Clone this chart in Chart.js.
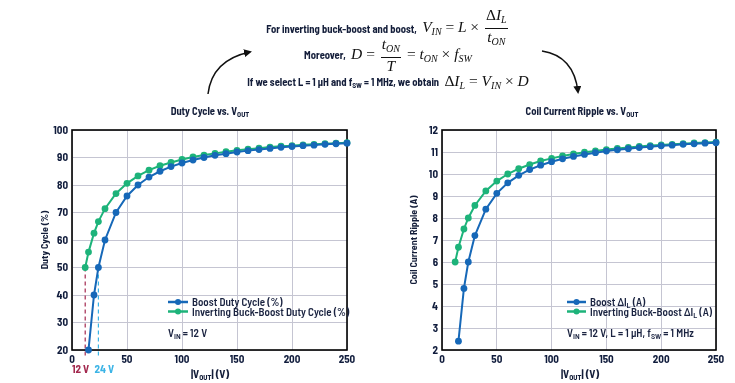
<!DOCTYPE html>
<html>
<head>
<meta charset="utf-8">
<script src="https://cdn.jsdelivr.net/npm/chart.js@4.4.1/dist/chart.umd.min.js"></script>
<style>
  html,body{margin:0;padding:0;background:#fff;}
  #root{position:relative;width:735px;height:383px;overflow:hidden;font-family:"Barlow Semi Condensed","Roboto Condensed","Liberation Sans",sans-serif;color:#141e3a;}
  .abs{position:absolute;white-space:nowrap;}
  .sans{font-family:"Barlow Semi Condensed","Roboto Condensed","Liberation Sans",sans-serif;font-weight:bold;font-size:10.5px;color:#141e3a;}
  .math{font-family:"Liberation Serif","DejaVu Serif",serif;font-style:italic;font-size:15.5px;color:#111;}
  .math .up{font-style:normal;}
  .math sub{font-size:10px;vertical-align:-3px;}
  .frac{display:inline-flex;flex-direction:column;vertical-align:middle;text-align:center;line-height:16px;margin:0 2px;}
  .frac>span:first-child{border-bottom:1px solid #111;padding:0 1px;}
  .sans sub{font-size:7.5px;vertical-align:-2px;}
  .ylab{transform:translate(-50%,-50%) rotate(-90deg);}
  .leg{font-family:"Barlow Semi Condensed","Roboto Condensed",sans-serif;font-weight:600;font-size:11px;color:#1a2340;}
  .leg sub{font-size:8px;vertical-align:-2px;}
  .eq{left:41px;width:694px;text-align:center;}
  canvas{position:absolute;top:0;}
</style>
</head>
<body>
<div id="root">
  <canvas id="c1" width="370" height="383" style="left:0"></canvas>
  <canvas id="c2" width="365" height="383" style="left:370px"></canvas>

  <!-- equations -->
  <div class="abs eq" style="top:7px;">
    <span class="sans" style="vertical-align:middle">For inverting buck-boost and boost,&nbsp;</span>
    <span class="math">V<sub>IN</sub> <span class="up">=</span> L <span class="up">×</span> <span class="frac"><span><span class="up">Δ</span>I<sub>L</sub></span><span>t<sub>ON</sub></span></span></span>
  </div>
  <div class="abs eq" style="top:36px;">
    <span class="sans" style="vertical-align:middle">Moreover,&nbsp;</span>
    <span class="math">D <span class="up">=</span> <span class="frac"><span>t<sub>ON</sub></span><span>T</span></span> <span class="up">=</span> t<sub>ON</sub> <span class="up">×</span> f<sub>SW</sub></span>
  </div>
  <div class="abs eq" style="top:70px;">
    <span class="sans">If we select L = 1 μH and f<sub>SW</sub> = 1 MHz, we obtain&nbsp;</span>
    <span class="math"><span class="up">Δ</span>I<sub>L</sub> <span class="up">=</span> V<sub>IN</sub> <span class="up">×</span> D</span>
  </div>

  <svg class="abs" style="left:0;top:0" width="735" height="383">
    <defs>
      <marker id="ah" markerWidth="8" markerHeight="8" refX="6" refY="4" orient="auto" markerUnits="userSpaceOnUse">
        <path d="M0,0 L8,4 L0,8 z" fill="#111"/>
      </marker>
    </defs>
    <path d="M208,94 Q212,60 250,52" fill="none" stroke="#111" stroke-width="1.5" marker-end="url(#ah)"/>
    <path d="M542,51 Q574,56 578,92" fill="none" stroke="#111" stroke-width="1.5" marker-end="url(#ah)"/>
  </svg>

  <!-- chart titles -->
  <div class="abs sans" style="left:210px;top:104px;transform:translateX(-50%);font-size:10.5px;">Duty Cycle vs. V<sub>OUT</sub></div>
  <div class="abs sans" style="left:582px;top:104px;transform:translateX(-50%);font-size:10.5px;">Coil Current Ripple vs. V<sub>OUT</sub></div>

  <!-- axis titles -->
  <div class="abs sans ylab" style="left:44px;top:240px;font-size:10px;">Duty Cycle (%)</div>
  <div class="abs sans ylab" style="left:413px;top:240px;font-size:10px;">Coil Current Ripple (A)</div>
  <div class="abs sans" style="left:210px;top:367px;transform:translateX(-50%);font-size:11px;">|V<sub>OUT</sub>| (V)</div>
  <div class="abs sans" style="left:580px;top:367px;transform:translateX(-50%);font-size:11px;">|V<sub>OUT</sub>| (V)</div>

  <!-- legends -->
  <svg class="abs" style="left:0;top:0" width="735" height="383">
    <line x1="168" y1="302" x2="188" y2="302" stroke="#1668b8" stroke-width="2.5"/><circle cx="178" cy="302" r="3" fill="#1668b8"/>
    <line x1="168" y1="311.5" x2="188" y2="311.5" stroke="#1db37a" stroke-width="2.5"/><circle cx="178" cy="311.5" r="3" fill="#1db37a"/>
    <line x1="567" y1="302" x2="586" y2="302" stroke="#1668b8" stroke-width="2.5"/><circle cx="576.5" cy="302" r="3" fill="#1668b8"/>
    <line x1="567" y1="311.5" x2="586" y2="311.5" stroke="#1db37a" stroke-width="2.5"/><circle cx="576.5" cy="311.5" r="3" fill="#1db37a"/>
  </svg>
  <div class="abs leg" style="left:192px;top:295px;">Boost Duty Cycle (%)</div>
  <div class="abs leg" style="left:192px;top:304.5px;">Inverting Buck-Boost Duty Cycle (%)</div>
  <div class="abs leg" style="left:168px;top:326px;">V<sub>IN</sub> = 12 V</div>
  <div class="abs leg" style="left:590px;top:295px;">Boost ΔI<sub>L</sub> (A)</div>
  <div class="abs leg" style="left:590px;top:304.5px;">Inverting Buck-Boost ΔI<sub>L</sub> (A)</div>
  <div class="abs leg" style="left:567px;top:326px;">V<sub>IN</sub> = 12 V, L = 1 μH, f<sub>SW</sub> = 1 MHz</div>
</div>

<script>
// ---- data ----
const vBoost = [15, 20, 24, 30, 40, 50, 60, 70, 80, 90, 100, 110, 120, 130, 140, 150, 160, 170, 180, 190, 200, 210, 220, 230, 240, 250];
const vInv   = [12, 15, 20, 24, 30, 40, 50, 60, 70, 80, 90, 100, 110, 120, 130, 140, 150, 160, 170, 180, 190, 200, 210, 220, 230, 240, 250];

const dutyBoost = [20, 40, 50, 60, 70, 76, 80, 82.9, 85, 86.7, 88, 89.1, 90, 90.8, 91.4, 92, 92.5, 92.9, 93.3, 93.7, 94, 94.3, 94.5, 94.8, 95, 95.2];
const dutyInv   = [50, 55.6, 62.5, 66.7, 71.4, 76.9, 80.6, 83.3, 85.4, 87, 88.2, 89.3, 90.2, 90.9, 91.5, 92.1, 92.6, 93, 93.4, 93.8, 94.1, 94.3, 94.6, 94.8, 95, 95.2, 95.4];

const rippleBoost = [2.4, 4.8, 6, 7.2, 8.4, 9.12, 9.6, 9.94, 10.2, 10.4, 10.56, 10.69, 10.8, 10.89, 10.97, 11.04, 11.1, 11.15, 11.2, 11.24, 11.28, 11.31, 11.35, 11.37, 11.4, 11.42];
const rippleInv   = [6, 6.67, 7.5, 8, 8.57, 9.23, 9.68, 10, 10.24, 10.43, 10.59, 10.71, 10.82, 10.91, 10.99, 11.05, 11.11, 11.16, 11.21, 11.25, 11.29, 11.32, 11.35, 11.38, 11.41, 11.43, 11.45];

const markerVolts = [12, 24];
const markerLabels = ['12 V', '24 V'];
const markerDuty = 50;

const BLUE = '#1668b8', GREEN = '#1db37a';
const FONT = '"Barlow Semi Condensed","Roboto Condensed","Liberation Sans",sans-serif';

function pts(xs, ys){ return xs.map((x,i)=>({x:x, y:ys[i]})); }

function ds(label, xs, ys, color){
  return {label, data: pts(xs, ys), borderColor: color, backgroundColor: color,
    borderWidth: 2, pointRadius: 3.4, pointHoverRadius: 3.4, pointBorderWidth: 0,
    tension: 0, clip: false};
}

const framePlugin = {
  id: 'frame',
  beforeDatasetsDraw(chart){
    const {ctx, chartArea:a} = chart;
    ctx.save();
    ctx.strokeStyle = '#000'; ctx.lineWidth = 1.6;
    ctx.strokeRect(a.left, a.top, a.right - a.left, a.bottom - a.top);
    ctx.restore();
  }
};

const markerPlugin = {
  id: 'vmarkers',
  beforeDatasetsDraw(chart){
    const {ctx, scales:{x, y}, chartArea:a} = chart;
    const cols = ['#a3294f', '#3cb4e6'];
    ctx.save();
    ctx.lineWidth = 1.2;
    ctx.setLineDash([4, 3]);
    markerVolts.forEach((v, i) => {
      const px = x.getPixelForValue(v);
      ctx.strokeStyle = cols[i];
      ctx.beginPath();
      ctx.moveTo(px, y.getPixelForValue(markerDuty));
      ctx.lineTo(px, a.bottom + 8);
      ctx.stroke();
    });
    ctx.setLineDash([]);
    ctx.font = 'bold 11px ' + FONT;
    ctx.textBaseline = 'middle';
    markerVolts.forEach((v, i) => {
      const px = x.getPixelForValue(v);
      ctx.fillStyle = cols[i];
      ctx.textAlign = i === 0 ? 'right' : 'left';
      ctx.fillText(markerLabels[i], i === 0 ? px + 4 : px - 4, a.bottom + 19);
    });
    ctx.restore();
  }
};

function makeChart(id, datasets, ymin, ymax, ystep, rightPad, extraPlugins){
  return new Chart(document.getElementById(id), {
    type: 'line',
    data: { datasets },
    options: {
      responsive: false, animation: false, devicePixelRatio: 1,
      layout: { padding: { top: 130, right: rightPad, left: 0, bottom: 0 } },
      plugins: { legend: { display: false }, tooltip: { enabled: false } },
      scales: {
        x: {
          type: 'linear', min: 0, max: 250,
          ticks: { stepSize: 50, padding: 3, color: '#101c3c', font: { family: FONT, weight: 'bold', size: 11 } },
          grid: { color: '#c5c5d2', lineWidth: 1, drawTicks: false },
          border: { display: false },
          afterFit(s){ s.height = 33; }
        },
        y: {
          min: ymin, max: ymax,
          ticks: { stepSize: ystep, padding: 4, color: '#101c3c', font: { family: FONT, weight: 'bold', size: 11 } },
          grid: { color: '#c5c5d2', lineWidth: 1, drawTicks: false },
          border: { display: false },
          afterFit(s){ s.width = 72; }
        }
      }
    },
    plugins: [framePlugin].concat(extraPlugins)
  });
}

document.fonts.load('bold 11px "Barlow Semi Condensed"').finally(() => {
  makeChart('c1', [
    ds('Boost Duty Cycle (%)', vBoost, dutyBoost, BLUE),
    ds('Inverting Buck-Boost Duty Cycle (%)', vInv, dutyInv, GREEN)
  ], 20, 100, 10, 23, [markerPlugin]);

  makeChart('c2', [
    ds('Boost ΔIL (A)', vBoost, rippleBoost, BLUE),
    ds('Inverting Buck-Boost ΔIL (A)', vInv, rippleInv, GREEN)
  ], 2, 12, 1, 19, []);
});
</script>
</body>
</html>
